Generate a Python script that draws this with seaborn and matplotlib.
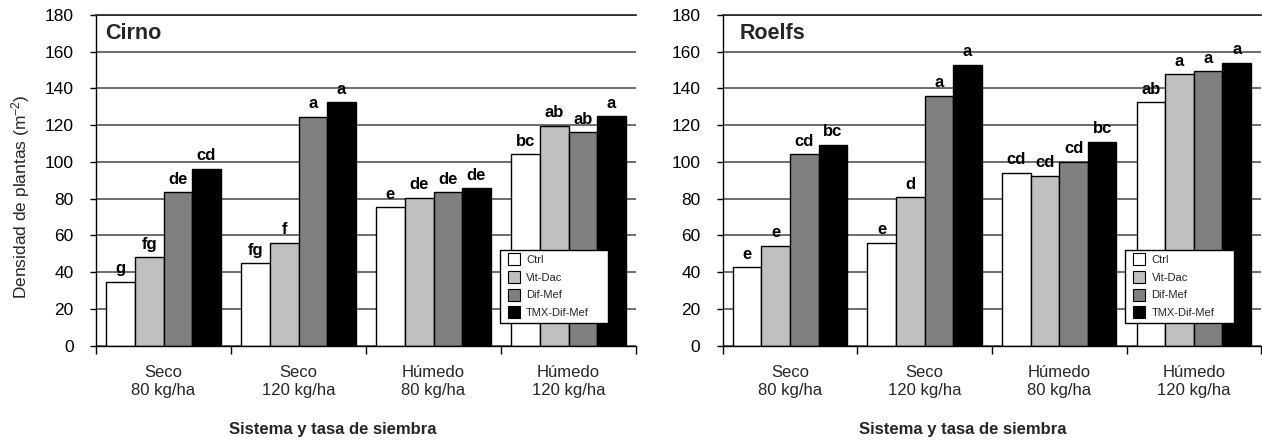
import numpy as np
import pandas as pd
import matplotlib
matplotlib.use("Agg")
import matplotlib.pyplot as plt
from matplotlib.lines import Line2D
import seaborn as sns

# ---------------- data ----------------
groups = ["Seco\n80 kg/ha", "Seco\n120 kg/ha", "Húmedo\n80 kg/ha", "Húmedo\n120 kg/ha"]
treatments = ["Ctrl", "Vit-Dac", "Dif-Mef", "TMX-Dif-Mef"]

cirno_ctrl = [34.8, 44.8, 75.3, 104.2]
cirno_vitdac = [48.1, 56.1, 80.6, 119.8]
cirno_difmef = [83.5, 124.6, 83.5, 116.2]
cirno_tmx = [96.2, 132.5, 85.7, 124.9]
cirno_letters_ctrl = ["g", "fg", "e", "bc"]
cirno_letters_vitdac = ["fg", "f", "de", "ab"]
cirno_letters_difmef = ["de", "a", "de", "ab"]
cirno_letters_tmx = ["cd", "a", "de", "a"]

roelfs_ctrl = [42.7, 56.1, 94.0, 132.5]
roelfs_vitdac = [54.4, 80.8, 92.5, 147.7]
roelfs_difmef = [104.2, 135.9, 100.2, 149.3]
roelfs_tmx = [109.4, 152.8, 111.0, 154.0]
roelfs_letters_ctrl = ["e", "e", "cd", "ab"]
roelfs_letters_vitdac = ["e", "d", "cd", "a"]
roelfs_letters_difmef = ["cd", "a", "cd", "a"]
roelfs_letters_tmx = ["bc", "a", "bc", "a"]

y_ticks = [0, 20, 40, 60, 80, 100, 120, 140, 160, 180]
colors = ["#FFFFFF", "#C0C0C0", "#808080", "#000000"]

# ---------------- style ----------------
sns.set_style("white")
plt.rcParams["font.family"] = ["Liberation Sans", "DejaVu Sans"]
plt.rcParams["mathtext.fontset"] = "custom"
plt.rcParams["mathtext.rm"] = "Liberation Sans"
plt.rcParams["mathtext.it"] = "Liberation Sans:italic"
plt.rcParams["mathtext.bf"] = "Liberation Sans:bold"


def make_df(vals):
    rows = []
    for t, series in zip(treatments, vals):
        for g, v in zip(groups, series):
            rows.append({"grupo": g, "tratamiento": t, "densidad": v})
    return pd.DataFrame(rows)


panels = [
    ("Cirno", [cirno_ctrl, cirno_vitdac, cirno_difmef, cirno_tmx],
     [cirno_letters_ctrl, cirno_letters_vitdac, cirno_letters_difmef, cirno_letters_tmx],
     [96 / 1262, 0.2143, 540 / 1262, 0.7516], 0.017, 0.438),
    ("Roelfs", [roelfs_ctrl, roelfs_vitdac, roelfs_difmef, roelfs_tmx],
     [roelfs_letters_ctrl, roelfs_letters_vitdac, roelfs_letters_difmef, roelfs_letters_tmx],
     [722.7 / 1262, 0.2143, 538.5 / 1262, 0.7516], 0.032, 0.445),
]

fig = plt.figure(figsize=(12.62, 4.40), dpi=100)

for i, (title, vals, letters, pos, tx, xlx) in enumerate(panels):
    ax = fig.add_axes(pos)
    df = make_df(vals)
    sns.barplot(data=df, x="grupo", y="densidad", hue="tratamiento",
                order=groups, hue_order=treatments, palette=colors,
                edgecolor="black", linewidth=1.0, width=0.85, gap=0,
                legend=False, ax=ax, err_kws={"linewidth": 0})
    for cont, labs in zip(ax.containers, letters):
        ax.bar_label(cont, labels=labs, padding=4, fontsize=12,
                     fontweight="bold", color="black")

    ax.set_ylim(0, 180)
    ax.set_xlim(-0.5, 3.5)
    ax.set_yticks(y_ticks)
    ax.yaxis.grid(True, color="#555555", linewidth=1.2)
    ax.xaxis.grid(False)
    ax.set_axisbelow(True)

    ax.tick_params(axis="y", left=True, length=4, width=1, pad=12,
                   labelsize=12.5, colors="black", direction="out")
    ax.set_xticks(range(len(groups)))
    ax.set_xticklabels(groups, fontsize=12)
    ax.tick_params(axis="x", which="major", length=0, pad=14)
    ax.set_xticks([-0.5, 0.5, 1.5, 2.5, 3.5], minor=True)
    ax.tick_params(axis="x", which="minor", bottom=True, length=6, width=1,
                   color="black", direction="out")

    for s in ["left", "bottom"]:
        ax.spines[s].set_visible(True)
        ax.spines[s].set_color("black")
        ax.spines[s].set_linewidth(1.0)
    ax.spines["top"].set_visible(True)
    ax.spines["top"].set_color("#222222")
    ax.spines["top"].set_linewidth(1.2)
    ax.spines["right"].set_visible(False)

    ax.set_xlabel("Sistema y tasa de siembra", fontsize=12, fontweight="bold")
    ax.xaxis.set_label_coords(xlx, -0.252)
    ax.xaxis.label.set_va("center")
    if i == 0:
        ax.set_ylabel(r"Densidad de plantas (m$^{\mathrm{-2}}$)", fontsize=12.5)
        ax.yaxis.set_label_coords(-0.118, 0.45)
    else:
        ax.set_ylabel("")

    ax.text(tx, 0.945, title, transform=ax.transAxes, fontsize=15.5,
            fontweight="bold", ha="left", va="center")

    handles = [Line2D([0], [0], marker="s", linestyle="none", markersize=8,
                      markerfacecolor=c, markeredgecolor="black",
                      markeredgewidth=0.8) for c in colors]
    leg = ax.legend(handles, treatments, loc="lower left",
                    bbox_to_anchor=(0.748, 0.068, 0.201, 0.231), mode="expand",
                    borderaxespad=0, fontsize=8, frameon=True, fancybox=False,
                    shadow=False, handlelength=1.6, handletextpad=0.3,
                    labelspacing=0.7, borderpad=0.45)
    leg.get_frame().set_edgecolor("black")
    leg.get_frame().set_linewidth(1.0)
    leg.get_frame().set_facecolor("white")
    leg.get_frame().set_alpha(1)

fig.savefig("out.png", dpi=100)
